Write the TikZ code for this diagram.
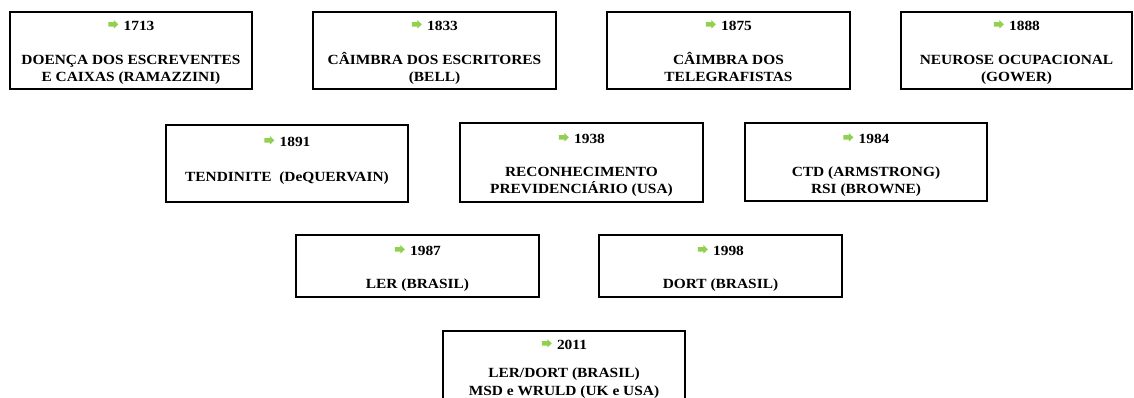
\documentclass[tikz,border=0pt]{standalone}
\usepackage{fontspec}
\setmainfont{Liberation Serif}[FakeStretch=1.1]
\definecolor{arrowgreen}{RGB}{146,208,80}
\tikzset{
  yearbox/.style={draw=black, line width=1.3pt, fill=white, rectangle, inner sep=0pt},
  yeartext/.style={inner sep=0pt, anchor=base, font=\fontsize{14pt}{16.5pt}\selectfont\bfseries},
  boxtext/.style={align=center, inner sep=0pt, anchor=north,
    font=\fontsize{14pt}{16.5pt}\selectfont\bfseries},
  yeararrow/.style={fill=arrowgreen, draw=none},
}
% name, x1, y1, x2, y2, year, text, year baseline offset, text top offset
\newcommand\yrbox[9]{%
  \node[yearbox, minimum width={#4-#2}, minimum height={#5-#3}] (#1) at ({(#2+#4)/2},{(#3+#5)/2}) {};
  \node[yeartext] (#1-y) at ([xshift=8pt,yshift=-#8pt]#1.north) {#6};
  \coordinate (#1-a) at ([xshift=-5pt,yshift=6pt]#1-y.base west);
  \fill[yeararrow] (#1-a) -- ++(-4.5,-4.2) -- ++(0,2) -- ++(-5.5,0) -- ++(0,4.4) -- ++(5.5,0) -- ++(0,2) -- cycle;
  \node[boxtext] (#1-t) at ([yshift=-#9pt]#1.north) {\rule{0pt}{12pt}#7};
}
\begin{document}
\begin{tikzpicture}[x=1pt,y=-1pt]
\useasboundingbox (0,0) rectangle (1134,398);
\clip (0,0) rectangle (1134,398);
\yrbox{b1713}{10}{12}{252}{89}{1713}{DOENÇA DOS ESCREVENTES\\E CAIXAS (RAMAZZINI)}{19}{41}
\yrbox{b1833}{313}{12}{556}{89}{1833}{CÂIMBRA DOS ESCRITORES\\(BELL)}{19}{41}
\yrbox{b1875}{607}{12}{850}{89}{1875}{CÂIMBRA DOS\\TELEGRAFISTAS}{19}{41}
\yrbox{b1888}{901}{12}{1132}{89}{1888}{NEUROSE OCUPACIONAL\\(GOWER)}{19}{41}
\yrbox{b1891}{166}{125}{408}{202}{1891}{TENDINITE\ \ (DeQUERVAIN)}{22}{45}
\yrbox{b1938}{460}{123}{703}{202}{1938}{RECONHECIMENTO\\PREVIDENCIÁRIO (USA)}{21}{42}
\yrbox{b1984}{745}{123}{987}{201}{1984}{CTD (ARMSTRONG)\\RSI (BROWNE)}{21}{42}
\yrbox{b1987}{296}{235}{539}{297}{1987}{LER (BRASIL)}{21}{42}
\yrbox{b1998}{599}{235}{842}{297}{1998}{DORT (BRASIL)}{21}{42}
\yrbox{b2011}{443}{331}{685}{420}{2011}{LER/DORT (BRASIL)\\[1.5pt]MSD e WRULD (UK e USA)}{19}{35}
\end{tikzpicture}
\end{document}
